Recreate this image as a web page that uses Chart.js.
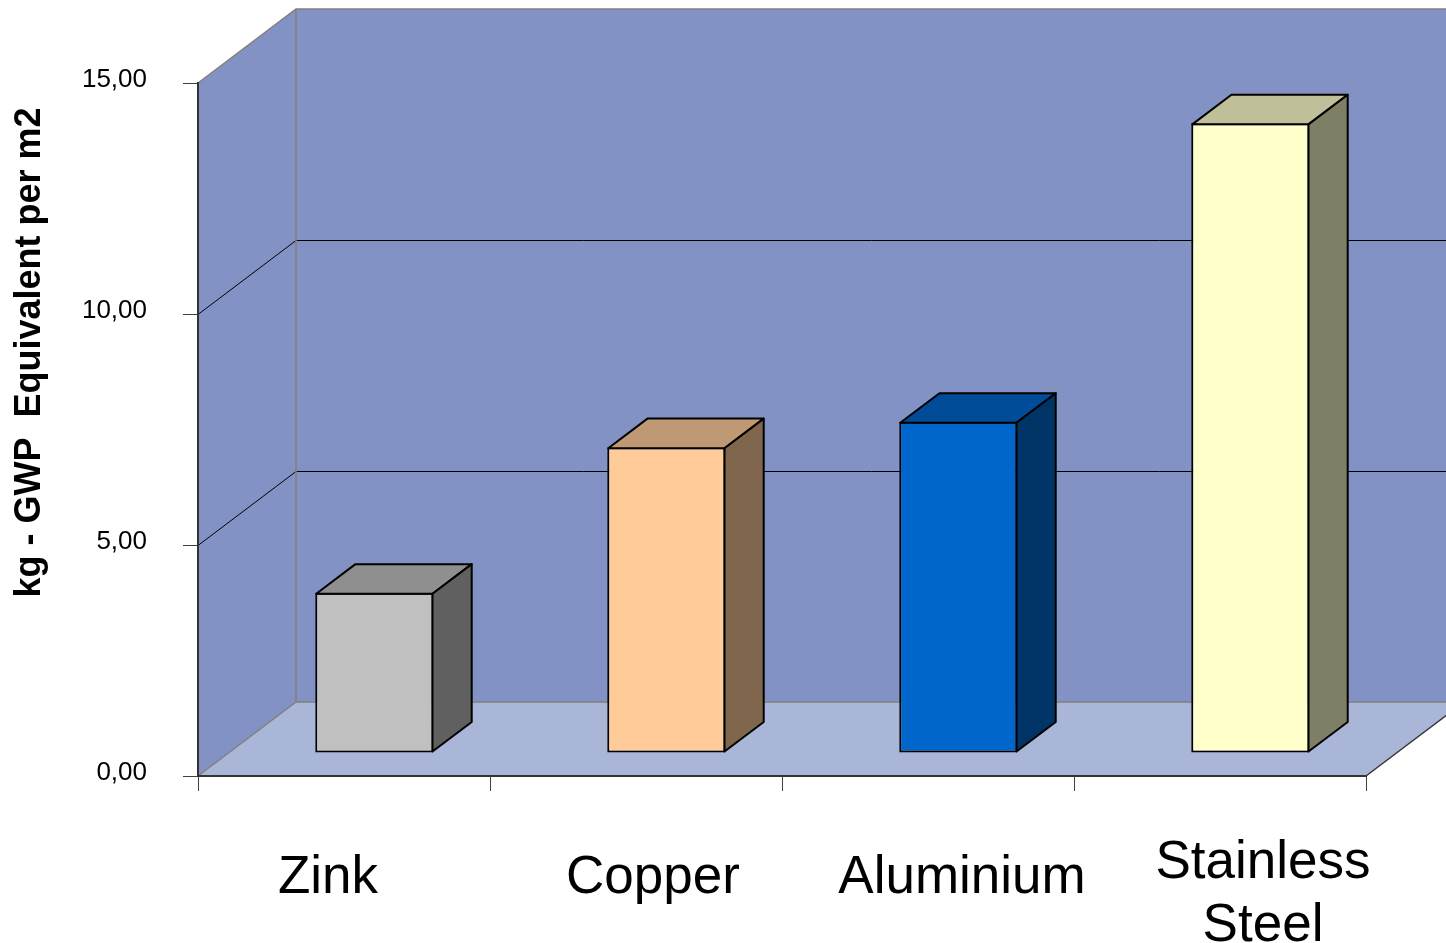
<!DOCTYPE html>
<html>
<head>
<meta charset="utf-8">
<title>GWP per m2</title>
<script src="https://cdn.jsdelivr.net/npm/chart.js@4.4.1/dist/chart.umd.min.js"></script>
<style>
  html, body { margin: 0; padding: 0; background: #fff; }
  canvas { display: block; }
</style>
</head>
<body>
<canvas id="gwpChart" width="1446" height="943"></canvas>
<script>
// kg GWP equivalent per m2 for each cladding material
const materials = ['Zink', 'Copper', 'Aluminium', ['Stainless', 'Steel']];
const gwpValues = [3.47, 6.62, 7.17, 13.63];
const yTicks = [0, 5, 10, 15];

// box faces: front, top (75%), side (50%)
const frontColors = ['#C0C0C0', '#FFCC99', '#0066CC', '#FFFFCC'];
const topColors = ['#8F8F8F', '#BF9973', '#004C99', '#BFBF99'];
const sideColors = ['#606060', '#7F664C', '#003366', '#7F7F66'];

const FONT = "'Liberation Sans', Arial, sans-serif";

// floor depth from front edge to back wall, in px
const DEPTH_X = 98, DEPTH_Y = -74;
// bars stand a bit behind the front edge and are 0.4 of the floor deep
const BAR_POS = 0.31, BAR_DEPTH = 0.4;
const WALL = '#8292C4', FLOOR = '#AAB6D8', EDGE = '#808080';
// category labels sit a little off the slot centres
const LABEL_SHIFT = [-16, 17, 34, 43];

function line(ctx, pts, color, width) {
    ctx.beginPath();
    ctx.moveTo(pts[0][0], pts[0][1]);
    for (let i = 1; i < pts.length; i++) ctx.lineTo(pts[i][0], pts[i][1]);
    ctx.strokeStyle = color;
    ctx.lineWidth = width;
    ctx.stroke();
}

function face(ctx, pts, fill, stroke) {
    ctx.beginPath();
    ctx.moveTo(pts[0][0], pts[0][1]);
    for (let i = 1; i < pts.length; i++) ctx.lineTo(pts[i][0], pts[i][1]);
    ctx.closePath();
    ctx.fillStyle = fill;
    ctx.fill();
    if (stroke) {
        ctx.strokeStyle = stroke;
        ctx.lineWidth = 2;
        ctx.lineJoin = 'round';
        ctx.stroke();
    }
}

// walls, floor, extruded bars and the text around them
const box3d = {
    id: 'box3d',
    beforeDraw(chart) {
        const { ctx, chartArea: a, scales: { y } } = chart;
        const y0 = y.getPixelForValue(yTicks[0]);
        const yTop = y.getPixelForValue(yTicks[yTicks.length - 1]);
        const L = a.left, R = a.right, dx = DEPTH_X, dy = DEPTH_Y;
        ctx.save();
        face(ctx, [[L, y0], [R, y0], [R + dx, y0 + dy], [L + dx, y0 + dy]], FLOOR);
        face(ctx, [[L + dx, yTop + dy], [R + dx, yTop + dy], [R + dx, y0 + dy], [L + dx, y0 + dy]], WALL);
        face(ctx, [[L, y0], [L, yTop], [L + dx, yTop + dy], [L + dx, y0 + dy]], WALL);

        // gridlines run over the side wall and the back wall
        yTicks.slice(1, -1).forEach(v => {
            const py = Math.round(y.getPixelForValue(v)) + 0.5;
            line(ctx, [[L, py], [L + dx, py + dy], [R + dx, py + dy]], '#000', 1);
        });

        line(ctx, [[L, yTop], [L + dx, yTop + dy], [R + dx, yTop + dy]], EDGE, 1.5);
        line(ctx, [[L + dx, yTop + dy], [L + dx, y0 + dy]], EDGE, 1.5);
        line(ctx, [[L, y0], [L + dx, y0 + dy], [R + dx, y0 + dy]], EDGE, 1.5);
        line(ctx, [[R, y0], [R + dx, y0 + dy]], '#333', 1.5);
        ctx.restore();
    },
    beforeDatasetsDraw(chart) {
        chart.ctx.save();
        chart.ctx.translate(DEPTH_X * BAR_POS, DEPTH_Y * BAR_POS);
    },
    afterDatasetsDraw(chart) {
        const ctx = chart.ctx;
        ctx.restore();
        const ox = DEPTH_X * BAR_POS, oy = DEPTH_Y * BAR_POS;
        const bx = DEPTH_X * BAR_DEPTH, by = DEPTH_Y * BAR_DEPTH;
        ctx.save();
        chart.getDatasetMeta(0).data.forEach((bar, i) => {
            const { x, y, base, width } = bar.getProps(['x', 'y', 'base', 'width'], true);
            // centre of the front face border
            const l = x - width / 2 + ox + 1, r = x + width / 2 + ox - 1;
            const t = y + oy + 1, b = base + oy - 1;
            face(ctx, [[l, t], [r, t], [r + bx, t + by], [l + bx, t + by]], topColors[i], '#000');
            face(ctx, [[r, t], [r + bx, t + by], [r + bx, b + by], [r, b]], sideColors[i], '#000');
        });
        ctx.restore();
    },
    afterDraw(chart) {
        const { ctx, chartArea: a, scales: { x } } = chart;
        ctx.save();
        ctx.fillStyle = '#000';
        ctx.textAlign = 'center';
        ctx.textBaseline = 'alphabetic';

        ctx.font = `53px ${FONT}`;
        materials.forEach((m, i) => {
            const lines = [].concat(m);
            const cx = x.getPixelForValue(i) + LABEL_SHIFT[i];
            const first = a.bottom + 117 - (lines.length - 1) * 15;
            lines.forEach((s, k) => ctx.fillText(s, cx, first + k * 63));
        });

        ctx.translate(40, (a.top + a.bottom) / 2 - 77);
        ctx.rotate(-Math.PI / 2);
        ctx.font = `bold 36px ${FONT}`;
        ctx.fillText('kg - GWP  Equivalent per m2', 0, 0);
        ctx.restore();
    }
};

new Chart(document.getElementById('gwpChart'), {
    type: 'bar',
    data: {
        labels: materials,
        datasets: [{
            data: gwpValues,
            backgroundColor: frontColors,
            borderColor: '#000',
            borderWidth: 2,
            borderSkipped: false,
            categoryPercentage: 1,
            barPercentage: 0.405
        }]
    },
    options: {
        responsive: false,
        animation: false,
        events: [],
        layout: { padding: { top: 83, right: 80, left: 0, bottom: 0 } },
        plugins: {
            legend: { display: false },
            tooltip: { enabled: false }
        },
        scales: {
            x: {
                grid: { drawOnChartArea: false, tickLength: 15, color: '#404040', offset: true },
                border: { color: '#333', width: 2 },
                ticks: { display: false },
                afterFit: s => { s.height = 167; }
            },
            y: {
                min: yTicks[0],
                max: yTicks[yTicks.length - 1],
                grid: { drawOnChartArea: false, tickLength: 15, color: '#404040' },
                border: { color: '#333', width: 2 },
                ticks: {
                    stepSize: 5,
                    padding: 36,
                    labelOffset: -3,
                    color: '#000',
                    font: { family: FONT, size: 26 },
                    callback: v => v.toFixed(2).replace('.', ',')
                },
                afterFit: s => { s.width = 198; }
            }
        }
    },
    plugins: [box3d]
});
</script>
</body>
</html>
